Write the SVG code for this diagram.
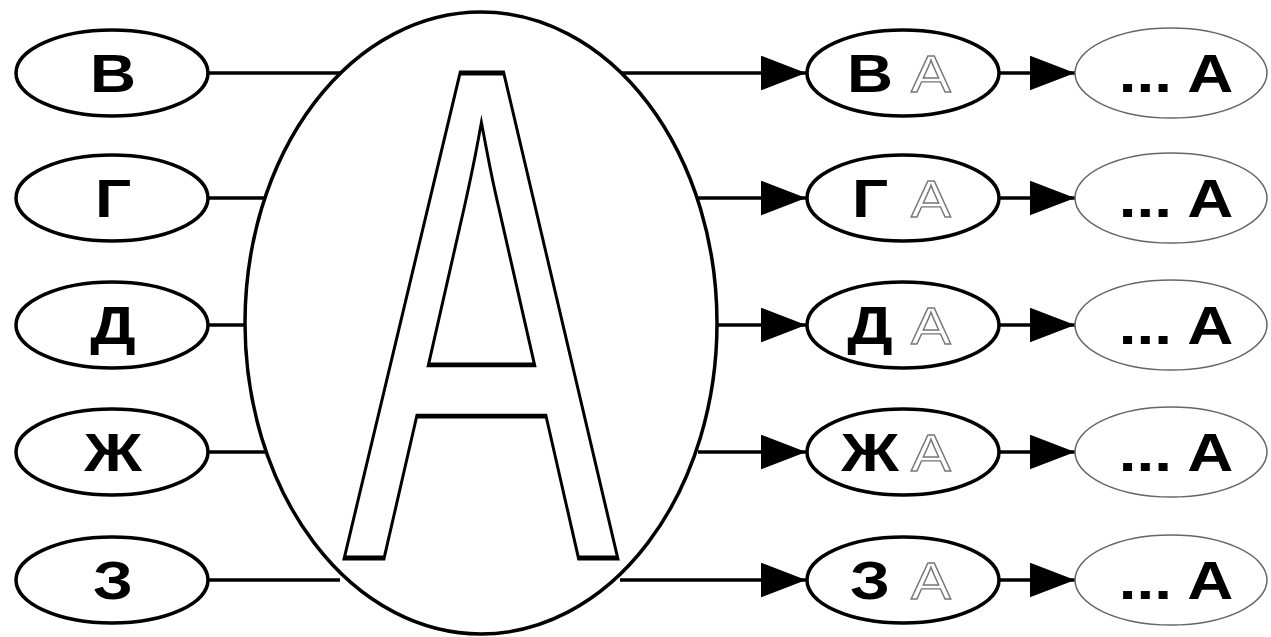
<svg xmlns="http://www.w3.org/2000/svg" width="1271" height="637" viewBox="0 0 1271 637">
<style>
.n{fill:#fff;stroke:#000;stroke-width:3.5}
.r{fill:#fff;stroke:#666;stroke-width:1.5}
.t{font-family:"Liberation Sans",Arial,sans-serif;font-weight:bold;font-size:54px;fill:#000;text-anchor:middle}
.o{font-family:"Liberation Sans",Arial,sans-serif;font-size:52px;fill:#fff;stroke:#777;stroke-width:1.3;text-anchor:middle}
.c line{stroke:#000;stroke-width:3.5}
</style>
<defs>
<marker id="ah" markerWidth="13" markerHeight="10" refX="13" refY="5" orient="auto" markerUnits="strokeWidth">
<path d="M0,0 L13,5 L0,10 Z" fill="#000"/>
</marker>
</defs>
<rect width="1271" height="637" fill="#fff"/>
<g class="c" id="connectors">
<line x1="208" y1="73" x2="340" y2="73"/>
<line x1="208" y1="198" x2="265" y2="198"/>
<line x1="208" y1="325" x2="248" y2="325"/>
<line x1="208" y1="452" x2="265" y2="452"/>
<line x1="208" y1="580" x2="340" y2="580"/>
<line x1="620" y1="73" x2="806" y2="73" marker-end="url(#ah)"/>
<line x1="698" y1="198" x2="806" y2="198" marker-end="url(#ah)"/>
<line x1="716" y1="325" x2="806" y2="325" marker-end="url(#ah)"/>
<line x1="698" y1="452" x2="806" y2="452" marker-end="url(#ah)"/>
<line x1="620" y1="580" x2="806" y2="580" marker-end="url(#ah)"/>
<line x1="1000" y1="73" x2="1075" y2="73" marker-end="url(#ah)"/>
<line x1="1000" y1="198" x2="1075" y2="198" marker-end="url(#ah)"/>
<line x1="1000" y1="325" x2="1075" y2="325" marker-end="url(#ah)"/>
<line x1="1000" y1="452" x2="1075" y2="452" marker-end="url(#ah)"/>
<line x1="1000" y1="580" x2="1075" y2="580" marker-end="url(#ah)"/>
</g>
<g id="center">
<ellipse class="n" cx="481" cy="323" rx="236" ry="311"/>
<text transform="translate(481,558) scale(0.585,1)" font-family="Liberation Sans,Arial,sans-serif" font-size="705" text-anchor="middle" fill="#fff" stroke="#000" stroke-width="4" vector-effect="non-scaling-stroke">A</text>
</g>
<g id="l1"><ellipse class="n" cx="112" cy="73" rx="96" ry="43"/><text class="t" transform="translate(113,92) scale(1.18,1)">В</text></g>
<g id="l2"><ellipse class="n" cx="112" cy="198" rx="96" ry="43"/><text class="t" transform="translate(113,217) scale(1.18,1)">Г</text></g>
<g id="l3"><ellipse class="n" cx="112" cy="325" rx="96" ry="43"/><text class="t" transform="translate(113,344) scale(1.18,1)">Д</text></g>
<g id="l4"><ellipse class="n" cx="112" cy="452" rx="96" ry="43"/><text class="t" transform="translate(113,471) scale(1.18,1)">Ж</text></g>
<g id="l5"><ellipse class="n" cx="112" cy="580" rx="96" ry="43"/><text class="t" transform="translate(113,599) scale(1.18,1)">З</text></g>
<g id="m1"><ellipse class="n" cx="903" cy="73" rx="96" ry="43"/><text class="t" transform="translate(870,92) scale(1.18,1)">В</text><text class="o" transform="translate(931,92) scale(1.15,1)">A</text></g>
<g id="m2"><ellipse class="n" cx="903" cy="198" rx="96" ry="43"/><text class="t" transform="translate(870,217) scale(1.18,1)">Г</text><text class="o" transform="translate(931,217) scale(1.15,1)">A</text></g>
<g id="m3"><ellipse class="n" cx="903" cy="325" rx="96" ry="43"/><text class="t" transform="translate(870,344) scale(1.18,1)">Д</text><text class="o" transform="translate(931,344) scale(1.15,1)">A</text></g>
<g id="m4"><ellipse class="n" cx="903" cy="452" rx="96" ry="43"/><text class="t" transform="translate(870,471) scale(1.18,1)">Ж</text><text class="o" transform="translate(931,471) scale(1.15,1)">A</text></g>
<g id="m5"><ellipse class="n" cx="903" cy="580" rx="96" ry="43"/><text class="t" transform="translate(870,599) scale(1.18,1)">З</text><text class="o" transform="translate(931,599) scale(1.15,1)">A</text></g>
<g id="r1"><ellipse class="r" cx="1171" cy="73" rx="96" ry="45"/><text class="t" transform="translate(1176,92) scale(1.18,1)">... A</text></g>
<g id="r2"><ellipse class="r" cx="1171" cy="198" rx="96" ry="45"/><text class="t" transform="translate(1176,217) scale(1.18,1)">... A</text></g>
<g id="r3"><ellipse class="r" cx="1171" cy="325" rx="96" ry="45"/><text class="t" transform="translate(1176,344) scale(1.18,1)">... A</text></g>
<g id="r4"><ellipse class="r" cx="1171" cy="452" rx="96" ry="45"/><text class="t" transform="translate(1176,471) scale(1.18,1)">... A</text></g>
<g id="r5"><ellipse class="r" cx="1171" cy="580" rx="96" ry="45"/><text class="t" transform="translate(1176,599) scale(1.18,1)">... A</text></g>
</svg>
